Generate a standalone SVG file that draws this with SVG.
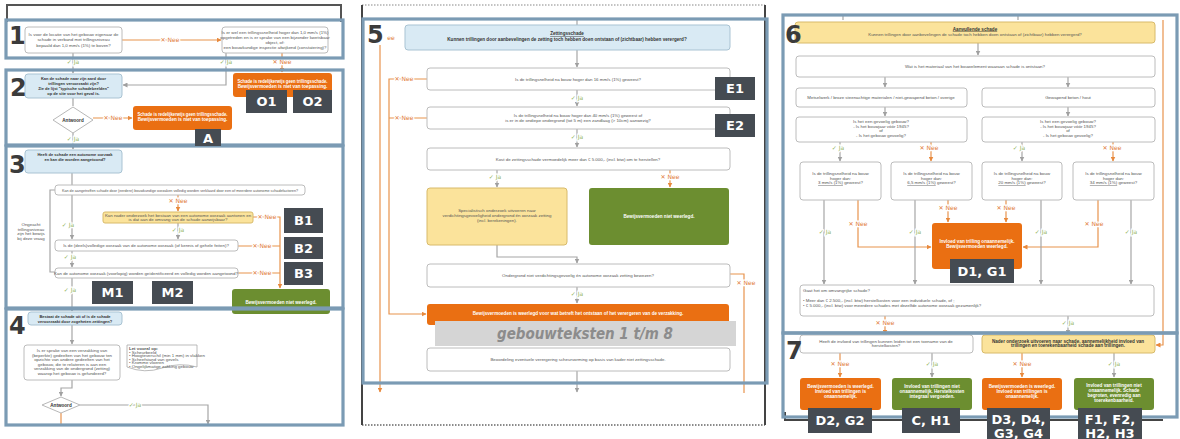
<svg xmlns="http://www.w3.org/2000/svg" width="1180" height="439" viewBox="0 0 1180 439">
<style>
.q{fill:#fff;stroke:#bcbcbc;stroke-width:1}
.lb{fill:#d9eaf4;stroke:#a9c3d3;stroke-width:1}
.or{fill:#ea6f12}
.gr{fill:#6c8e30}
.ye{fill:#fbe39b;stroke:#d8ba6a;stroke-width:1}
.tag{fill:#454b52}
.frame{fill:none;stroke:#7b9bb4;stroke-width:3.2}
.t{font-family:"Liberation Sans",Arial,sans-serif;font-size:4.4px;fill:#555;text-anchor:middle}
.tl{font-family:"Liberation Sans",Arial,sans-serif;font-size:4.4px;fill:#555}
.tb{font-family:"Liberation Sans",Arial,sans-serif;font-size:4.6px;fill:#333;font-weight:bold;text-anchor:middle}
.ts{font-size:4px}
.tw{font-family:"Liberation Sans",Arial,sans-serif;font-size:4.6px;fill:#fff;font-weight:bold;text-anchor:middle}
.tg{font-family:"DejaVu Sans",Verdana,sans-serif;font-size:13px;fill:#fff;font-weight:bold;text-anchor:middle}
.num{font-family:"DejaVu Sans",Verdana,sans-serif;font-size:24px;fill:#3b3b3b;font-weight:bold}
.ja{font-family:"DejaVu Sans",sans-serif;font-size:6px;fill:#93b55e;text-anchor:middle;stroke:#fff;stroke-width:2.5;paint-order:stroke}
.nee{font-family:"DejaVu Sans",sans-serif;font-size:6px;fill:#e07a36;text-anchor:middle;stroke:#fff;stroke-width:2.5;paint-order:stroke}
.cg{stroke:#a6a6a6;stroke-width:1.2;fill:none}
.co{stroke:#e8934d;stroke-width:1.2;fill:none}
</style>
<defs>
<marker id="ag" markerWidth="5" markerHeight="5" refX="4.5" refY="2.5" orient="auto" markerUnits="userSpaceOnUse"><path d="M0,0 L5,2.5 L0,5 Z" fill="#a0a0a0"/></marker>
<marker id="ao" markerWidth="5" markerHeight="5" refX="4.5" refY="2.5" orient="auto" markerUnits="userSpaceOnUse"><path d="M0,0 L5,2.5 L0,5 Z" fill="#e8893d"/></marker>
</defs>
<rect width="1180" height="439" fill="#fff"/>

<!-- outer frames -->
<g id="outer">
<path d="M7,22 V5 H341 V22" fill="none" stroke="#555" stroke-width="2"/>
<line x1="362" y1="5" x2="765" y2="5" stroke="#888" stroke-width="1.2" stroke-dasharray="1.5 1.5"/>
<line x1="362" y1="425" x2="765" y2="425" stroke="#666" stroke-width="1.5" stroke-dasharray="1.5 1.5"/>
<line x1="362" y1="5" x2="362" y2="425" stroke="#444" stroke-width="2"/>
<line x1="765" y1="5" x2="765" y2="425" stroke="#444" stroke-width="2"/>
<path d="M785,412 V420 H1163" fill="none" stroke="#444" stroke-width="2"/>
</g>

<!-- connectors -->
<g id="connectors">
<path class="co" d="M122,40 H221" marker-end="url(#ao)"/>
<path class="cg" d="M73,53 V73" marker-end="url(#ag)"/>
<path class="cg" d="M226,53 V85 H123" marker-end="url(#ag)"/>
<path class="co" d="M282,53 V72" marker-end="url(#ao)"/>
<path class="cg" d="M73,98 V106"/>
<path class="co" d="M93,118 H132" marker-end="url(#ao)"/>
<path class="cg" d="M73,133 V149" marker-end="url(#ag)"/>
<path class="cg" d="M72,173 V185"/>
<path class="cg" d="M72,195 V239" marker-end="url(#ag)"/>
<path class="co" d="M178,195 V211" marker-end="url(#ao)"/>
<path class="cg" d="M178,223 V239" marker-end="url(#ag)"/>
<path class="co" d="M253,217 H280 V288" marker-end="url(#ao)"/>
<path class="co" d="M238,246 H280"/>
<path class="co" d="M238,273 H280"/>
<path class="cg" d="M72,251 V267" marker-end="url(#ag)"/>
<path class="cg" d="M72,278 V311" marker-end="url(#ag)"/>
<path class="cg" d="M55,190 H50 V272 H55"/>
<path class="cg" d="M72,325 V344" marker-end="url(#ag)"/>
<path class="cg" d="M72,380 V388 H61 V396" marker-end="url(#ag)"/>
<path class="cg" d="M80,405 H208 V424" marker-end="url(#ag)"/>
<path class="co" d="M61,413 V425"/>
<path class="cg" d="M577,19 V25"/>
<path class="cg" d="M577,50 V67" marker-end="url(#ag)"/>
<path class="cg" d="M577,90 V106" marker-end="url(#ag)"/>
<path class="cg" d="M577,129 V147" marker-end="url(#ag)"/>
<path class="cg" d="M497,170 V187" marker-end="url(#ag)"/>
<path class="co" d="M670,170 V187" marker-end="url(#ao)"/>
<path class="cg" d="M497,245 V257 H577 V263" marker-end="url(#ag)"/>
<path class="co" d="M730,274 H744 V393"/>
<path class="cg" d="M577,287 V303" marker-end="url(#ag)"/>
<path class="cg" d="M577,371 V392" marker-end="url(#ag)"/>
<path class="co" d="M380,45 V392" marker-end="url(#ao)"/>
<path class="co" d="M427,79 H389 V314 H426" marker-end="url(#ao)"/>
<path class="co" d="M427,118 H389"/>
<path class="cg" d="M843,15 V20"/>
<path class="cg" d="M1018,15 V20"/>
<path class="cg" d="M978,43 V55" marker-end="url(#ag)"/>
<path class="cg" d="M885,77 V87" marker-end="url(#ag)"/>
<path class="cg" d="M1068,77 V87" marker-end="url(#ag)"/>
<path class="cg" d="M885,107 V116" marker-end="url(#ag)"/>
<path class="cg" d="M1068,107 V116" marker-end="url(#ag)"/>
<path class="cg" d="M840,142 V161" marker-end="url(#ag)"/>
<path class="co" d="M931,142 V161" marker-end="url(#ao)"/>
<path class="cg" d="M1022,142 V161" marker-end="url(#ag)"/>
<path class="co" d="M1113,142 V161" marker-end="url(#ao)"/>
<path class="co" d="M948,200 V222" marker-end="url(#ao)"/>
<path class="co" d="M1006,200 V222" marker-end="url(#ao)"/>
<path class="co" d="M858,200 V247 H931" marker-end="url(#ao)"/>
<path class="co" d="M1098,200 V247 H1023" marker-end="url(#ao)"/>
<path class="cg" d="M824,200 V284" marker-end="url(#ag)"/>
<path class="cg" d="M915,200 V284" marker-end="url(#ag)"/>
<path class="cg" d="M1041,200 V284" marker-end="url(#ag)"/>
<path class="cg" d="M1131,200 V284" marker-end="url(#ag)"/>
<path class="co" d="M885,316 V334" marker-end="url(#ao)"/>
<path class="cg" d="M1068,316 V334" marker-end="url(#ag)"/>
<path class="co" d="M1163,20 V345 H1156" marker-end="url(#ao)" stroke="#dba05f"/>
<path class="co" d="M840,353 V377" marker-end="url(#ao)"/>
<path class="cg" d="M932,353 V377" marker-end="url(#ag)"/>
<path class="co" d="M1022,353 V377" marker-end="url(#ao)"/>
<path class="cg" d="M1114,353 V377" marker-end="url(#ag)"/>
</g>

<!-- edge labels -->
<g id="edge-labels">
<text class="nee" x="170" y="42">✕ Nee</text>
<text class="ja" x="73" y="64">✓ Ja</text>
<text class="ja" x="226" y="64">✓ Ja</text>
<text class="nee" x="282" y="64">✕ Nee</text>
<text class="nee" x="113" y="120">✕ Nee</text>
<text class="ja" x="73" y="141">✓ Ja</text>
<text class="nee" x="178" y="203">✕ Nee</text>
<text class="ja" x="68" y="227">✓ Ja</text>
<text class="ja" x="178" y="232">✓ Ja</text>
<text class="nee" x="267" y="219">✕ Nee</text>
<text class="nee" x="262" y="248">✕ Nee</text>
<text class="nee" x="262" y="275">✕ Nee</text>
<text class="ja" x="70" y="259">✓ Ja</text>
<text class="ja" x="70" y="292">✓ Ja</text>
<text class="ja" x="135" y="407">✓ Ja</text>
<text class="nee" x="391" y="40">ee</text>
<text class="nee" x="404" y="81">✕ Nee</text>
<text class="nee" x="404" y="120">✕ Nee</text>
<text class="ja" x="577" y="100">✓ Ja</text>
<text class="ja" x="577" y="139">✓ Ja</text>
<text class="ja" x="495" y="179">✓ Ja</text>
<text class="nee" x="670" y="179">✕ Nee</text>
<text class="nee" x="746" y="285">✕ Nee</text>
<text class="ja" x="577" y="296">✓ Ja</text>
<text class="ja" x="838" y="150">✓ Ja</text>
<text class="nee" x="929" y="150">✕ Nee</text>
<text class="ja" x="1019" y="150">✓ Ja</text>
<text class="nee" x="1112" y="150">✕ Nee</text>
<text class="nee" x="948" y="210">✕ Nee</text>
<text class="nee" x="1006" y="210">✕ Nee</text>
<text class="nee" x="858" y="226">✕ Nee</text>
<text class="nee" x="1094" y="226">✕ Nee</text>
<text class="ja" x="825" y="234">✓ Ja</text>
<text class="ja" x="915" y="234">✓ Ja</text>
<text class="ja" x="1041" y="234">✓ Ja</text>
<text class="ja" x="1131" y="234">✓ Ja</text>
<text class="nee" x="885" y="325">✕ Nee</text>
<text class="ja" x="1068" y="325">✓ Ja</text>
<text class="nee" x="840" y="366">✕ Nee</text>
<text class="ja" x="932" y="366">✓ Ja</text>
<text class="nee" x="1022" y="366">✕ Nee</text>
<text class="ja" x="1114" y="366">✓ Ja</text>
</g>

<!-- ===== Panel 1 ===== -->
<g id="n1a"><rect class="q" x="25" y="27" width="97" height="26" rx="3"/>
<text class="t" x="73.5" y="36">Is voor de locatie van het gebouw eigenaar de</text>
<text class="t" x="73.5" y="41">schade in verband met trillingsniveau</text>
<text class="t" x="73.5" y="47">bepaald dan 1,0 mm/s (1%) te boven?</text></g>
<g id="n1b"><rect class="q" x="222" y="27" width="106" height="26" rx="3"/>
<text class="t" x="275" y="34">Is er wel een trillingssnelheid hoger dan 1,0 mm/s (1%)</text>
<text class="t" x="275" y="39">opgetreden en is er sprake van een bijzonder kwetsbaar</text>
<text class="t" x="275" y="44">object, of:</text>
<text class="t" x="275" y="49">een bouwkundige inspectie afwijkend (constatering)?</text></g>

<!-- ===== Panel 2 ===== -->
<g id="n2"><rect class="lb" x="25" y="74" width="97" height="24" rx="3"/>
<text class="tb ts" x="73.5" y="80">Kan de schade naar zijn aard door</text>
<text class="tb ts" x="73.5" y="85">trillingen veroorzaakt zijn?</text>
<text class="tb ts" x="73.5" y="90">Zie de lijst "typische schadebeelden"</text>
<text class="tb ts" x="73.5" y="95">op de site voor het geval is.</text></g>
<g id="nO"><rect class="or" x="233" y="73" width="99" height="24" rx="3"/>
<text class="tw" x="282.5" y="83" font-size="3.8" textLength="90" lengthAdjust="spacingAndGlyphs">Schade is redelijkerwijs geen trillingsschade.</text>
<text class="tw" x="282.5" y="88" font-size="3.8">Bewijsvermoeden is niet van toepassing.</text></g>
<g id="nAntw2"><polygon points="53,120 73,107 93,120 73,133" fill="#fff" stroke="#b8b8b8" stroke-width="1"/>
<text class="tb" x="73" y="121.5">Antwoord</text></g>
<g id="nA"><rect class="or" x="133" y="106" width="99" height="24" rx="3"/>
<text class="tw" x="182.5" y="116" font-size="3.8" textLength="90" lengthAdjust="spacingAndGlyphs">Schade is redelijkerwijs geen trillingsschade.</text>
<text class="tw" x="182.5" y="121" font-size="3.8">Bewijsvermoeden is niet van toepassing.</text></g>

<!-- ===== Panel 3 ===== -->
<g id="n3"><rect class="lb" x="25" y="150" width="97" height="23" rx="3"/>
<text class="tb ts" x="75" y="156">Heeft de schade een autonome oorzaak</text>
<text class="tb ts" x="75" y="161">en kan die worden aangetoond?</text></g>
<g id="n3a"><rect class="q" x="55" y="185" width="250" height="10" rx="3"/>
<text class="t" x="180" y="191.5" font-size="3.8" textLength="236" lengthAdjust="spacingAndGlyphs">Kan de aangetroffen schade door (eerdere) bouwkundige oorzaken volledig worden verklaard door een of meerdere autonome schadefactoren?</text></g>
<g id="n3b"><rect class="ye" x="103" y="212" width="150" height="11" rx="2"/>
<text class="t" x="178" y="216.5" font-size="3.8" fill="#444">Kan nader onderzoek het bestaan van een autonome oorzaak aantonen en</text>
<text class="t" x="178" y="221" font-size="3.8" fill="#444">is dat aan de omvang van de schade aanwijsbaar?</text></g>
<g id="n3c"><rect class="q" x="55" y="240" width="183" height="11" rx="3"/>
<text class="t" x="146" y="247" font-size="4">Is de (deels)volledige oorzaak van de autonome oorzaak (of kennis of gehele feiten)?</text></g>
<g id="n3d"><rect class="q" x="55" y="268" width="183" height="10" rx="3"/>
<text class="t" x="146" y="274.5" font-size="3.8">Kan de autonome oorzaak (voorlopig) worden geïdentificeerd en volledig worden aangetoond?</text></g>
<g id="n3side">
<text class="t" x="31" y="226">Ongeacht</text>
<text class="t" x="31" y="230.5">trillingsniveau</text>
<text class="t" x="31" y="235">zijn het bewijs</text>
<text class="t" x="31" y="239.5">bij deze vraag</text></g>
<g id="n3green"><rect class="gr" x="232" y="289" width="98" height="25" rx="3"/>
<text class="tw" x="281" y="304">Bewijsvermoeden niet weerlegd.</text></g>

<!-- ===== Panel 4 ===== -->
<g id="n4"><rect class="lb" x="28" y="312" width="94" height="13" rx="3"/>
<text class="tb ts" x="75" y="317.5">Bestaat de schade uit of is de schade</text>
<text class="tb ts" x="75" y="322.5">veroorzaakt door zogeheten zettingen?</text></g>
<g id="n4a"><rect class="q" x="24" y="345" width="96" height="35" rx="3"/>
<text class="t" x="72" y="352">Is er sprake van een verzakking van</text>
<text class="t" x="72" y="356.5">(beperkte) gedeelten van het gebouw ten</text>
<text class="t" x="72" y="361">opzichte van andere gedeelten van het</text>
<text class="t" x="72" y="365.5">gebouw, die te relateren is aan een</text>
<text class="t" x="72" y="370">verzakking van de ondergrond (zetting)</text>
<text class="t" x="72" y="374.5">waarop het gebouw is gefundeerd?</text></g>
<g id="n4doc"><path d="M127,345 H197 V367 Q180,362 162,368 Q145,374 127,367 Z" fill="#fff" stroke="#aaa" stroke-width="0.8"/>
<text class="tl" x="129" y="349.5" font-weight="bold" fill="#333">Let vooral op:</text>
<text class="tl" x="129" y="353.5">•     Scheurbeeld</text>
<text class="tl" x="129" y="357">•     Hoogteverschil (min 1 mm) in vlakken</text>
<text class="tl" x="129" y="360.5">•     Scheefstand van gevels</text>
<text class="tl" x="129" y="364">•     Kromme vloeren</text>
<text class="tl" x="129" y="367.5">•     Ongelijkmatige zakking gebouw</text></g>
<g id="nAntw4"><polygon points="42,405 61,397 80,405 61,413" fill="#fff" stroke="#b8b8b8" stroke-width="1"/>
<text class="tb" x="61" y="406.5">Antwoord</text></g>

<!-- ===== Panel 5 ===== -->
<g id="n5"><rect class="lb" x="405" y="25" width="325" height="25" rx="3"/>
<text class="tb" x="567" y="35" text-decoration="underline">Zettingsschade</text>
<text class="tb" x="567" y="41">Kunnen trillingen door aanbevelingen de zetting toch hebben doen ontstaan of (zichtbaar) hebben verergerd?</text></g>
<g id="n5a"><rect class="q" x="427" y="68" width="303" height="22" rx="3"/>
<text class="t" x="578" y="80.5">Is de trillingsnelheid na bouw hoger dan 16 mm/s (1%) geweest?</text></g>
<g id="n5b"><rect class="q" x="427" y="107" width="303" height="22" rx="3"/>
<text class="t" x="578" y="116.5">Is de trillingsnelheid na bouw hoger dan 40 mm/s (1%) geweest of</text>
<text class="t" x="578" y="121.5">is er in de ondiepe ondergrond (tot 5 m) een zandlaag (&gt; 10cm) aanwezig?</text></g>
<g id="n5c"><rect class="q" x="427" y="148" width="303" height="22" rx="3"/>
<text class="t" x="578" y="160.5">Kost de zettingsschade vermoedelijk meer dan € 5.000,- (incl. btw) om te herstellen?</text></g>
<g id="n5d"><rect class="ye" x="427" y="188" width="140" height="57" rx="3"/>
<text class="t" x="497" y="212" fill="#444">Specialistisch onderzoek uitvoeren naar</text>
<text class="t" x="497" y="217" fill="#444">verdichtingsgevoeligheid ondergrond én oorzaak zetting</text>
<text class="t" x="497" y="222" fill="#444">(incl. berekeningen).</text></g>
<g id="n5e"><rect class="gr" x="589" y="188" width="140" height="57" rx="3"/>
<text class="tw" x="659" y="218">Bewijsvermoeden niet weerlegd.</text></g>
<g id="n5f"><rect class="q" x="427" y="264" width="303" height="23" rx="3"/>
<text class="t" x="578" y="277">Ondergrond niet verdichtingsgevoelig én autonome oorzaak zetting bewezen?</text></g>
<g id="n5g"><rect class="or" x="427" y="304" width="302" height="21" rx="3"/>
<text class="tw" x="578" y="315">Bewijsvermoeden is weerlegd voor wat betreft het ontstaan of het verergeren van de verzakking.</text></g>
<g id="n5band"><rect x="435" y="321" width="301" height="25" fill="#d5d5d5"/>
<text x="585" y="339" font-family="'DejaVu Sans',Verdana,sans-serif" font-size="16" font-weight="bold" font-style="italic" fill="#8c8c8c" text-anchor="middle" textLength="176" lengthAdjust="spacingAndGlyphs">gebouwteksten 1 t/m 8</text></g>
<g id="n5h"><rect class="q" x="427" y="348" width="303" height="23" rx="3"/>
<text class="t" x="578" y="361">Beoordeling eventuele verergering scheurvorming op basis van kader niet zettingsschade.</text></g>

<!-- ===== Panel 6 ===== -->
<g id="n6"><rect class="ye" x="795" y="22" width="360" height="21" rx="3"/>
<text class="tb" x="975" y="30.5" text-decoration="underline">Aanvullende schade</text>
<text class="t" x="975" y="36" fill="#444">Kunnen trillingen door aanbevelingen de schade toch hebben doen ontstaan of (zichtbaar) hebben verergerd?</text></g>
<g id="n6a"><rect class="q" x="796" y="56" width="359" height="21" rx="3"/>
<text class="t" x="975" y="68">Wat is het materiaal van het bouwelement waaraan schade is ontstaan?</text></g>
<g id="n6b"><rect class="q" x="796" y="88" width="171" height="19" rx="3"/>
<text class="t" x="881" y="99">Metselwerk / broze steenachtige materialen / niet-gewapend beton / overige</text></g>
<g id="n6c"><rect class="q" x="982" y="88" width="173" height="19" rx="3"/>
<text class="t" x="1068" y="99">Gewapend beton / hout</text></g>
<g id="n6d"><rect class="q" x="796" y="117" width="171" height="25" rx="3"/>
<text class="t" x="881" y="123">Is het een gevoelig gebouw?</text>
<text class="t" x="881" y="127.5">- Is het bouwjaar vóór 1945?</text>
<text class="t" x="881" y="132">of</text>
<text class="t" x="881" y="136.5">- Is het gebouw gevoelig?</text></g>
<g id="n6e"><rect class="q" x="982" y="117" width="173" height="25" rx="3"/>
<text class="t" x="1068" y="123">Is het een gevoelig gebouw?</text>
<text class="t" x="1068" y="127.5">- Is het bouwjaar vóór 1945?</text>
<text class="t" x="1068" y="132">of</text>
<text class="t" x="1068" y="136.5">- Is het gebouw gevoelig?</text></g>
<g id="n6v1"><rect class="q" x="800" y="162" width="81" height="38" rx="3"/>
<text class="t" x="840.5" y="175">Is de trillingsnelheid na bouw</text>
<text class="t" x="840.5" y="179.5">hoger dan:</text>
<text class="t" x="840.5" y="184"><tspan text-decoration="underline">3 mm/s (1%)</tspan> geweest?</text></g>
<g id="n6v2"><rect class="q" x="891" y="162" width="81" height="38" rx="3"/>
<text class="t" x="931.5" y="175">Is de trillingsnelheid na bouw</text>
<text class="t" x="931.5" y="179.5">hoger dan:</text>
<text class="t" x="931.5" y="184"><tspan text-decoration="underline">6,5 mm/s (1%)</tspan> geweest?</text></g>
<g id="n6v3"><rect class="q" x="982" y="162" width="80" height="38" rx="3"/>
<text class="t" x="1022" y="175">Is de trillingsnelheid na bouw</text>
<text class="t" x="1022" y="179.5">hoger dan:</text>
<text class="t" x="1022" y="184"><tspan text-decoration="underline">20 mm/s (1%)</tspan> geweest?</text></g>
<g id="n6v4"><rect class="q" x="1073" y="162" width="81" height="38" rx="3"/>
<text class="t" x="1113.5" y="175">Is de trillingsnelheid na bouw</text>
<text class="t" x="1113.5" y="179.5">hoger dan:</text>
<text class="t" x="1113.5" y="184"><tspan text-decoration="underline">34 mm/s (1%)</tspan> geweest?</text></g>
<g id="n6or"><rect class="or" x="932" y="223" width="90" height="46" rx="3"/>
<text class="tw" x="977" y="243">Invloed van trilling onaannemelijk.</text>
<text class="tw" x="977" y="248">Bewijsvermoeden weerlegd.</text></g>
<g id="n6big"><rect class="q" x="800" y="285" width="354" height="31" rx="3"/>
<text class="tl" x="803" y="292">Gaat het om omvangrijke schade?</text>
<text class="tl" x="803" y="302">•        Meer dan € 2.500,- (incl. btw) herstelkosten voor een individuele schade, of ;</text>
<text class="tl" x="803" y="307">•        € 5.000,- (incl. btw) voor meerdere schades met dezelfde autonome oorzaak gezamenlijk?</text></g>

<!-- ===== Panel 7 ===== -->
<g id="n7a"><rect class="q" x="800" y="335" width="173" height="18" rx="3"/>
<text class="t" x="886" y="342.5">Heeft de invloed van trillingen kunnen leiden tot een toename van de</text>
<text class="t" x="886" y="347">herstelkosten?</text></g>
<g id="n7b"><rect class="ye" x="982" y="335" width="173" height="18" rx="3"/>
<text class="tb" x="1068" y="342.5">Nader onderzoek uitvoeren naar schade, aannemelijkheid invloed van</text>
<text class="tb" x="1068" y="347">trillingen en toerekenbaarheid schade aan trillingen.</text></g>
<g id="n7c"><rect class="or" x="800" y="378" width="81" height="32" rx="3"/>
<text class="tw" x="840.5" y="388">Bewijsvermoeden is weerlegd.</text>
<text class="tw" x="840.5" y="393">Invloed van trillingen is</text>
<text class="tw" x="840.5" y="398">onaannemelijk.</text></g>
<g id="n7d"><rect class="gr" x="892" y="378" width="80" height="32" rx="3"/>
<text class="tw" x="932" y="388">Invloed van trillingen niet</text>
<text class="tw" x="932" y="393">onaannemelijk. Herstelkosten</text>
<text class="tw" x="932" y="398">integraal vergoeden.</text></g>
<g id="n7e"><rect class="or" x="982" y="378" width="80" height="32" rx="3"/>
<text class="tw" x="1022" y="388">Bewijsvermoeden is weerlegd.</text>
<text class="tw" x="1022" y="393">Invloed van trillingen is</text>
<text class="tw" x="1022" y="398">onaannemelijk.</text></g>
<g id="n7f"><rect class="gr" x="1074" y="378" width="80" height="32" rx="3"/>
<text class="tw" x="1114" y="387">Invloed van trillingen niet</text>
<text class="tw" x="1114" y="392">onaannemelijk. Schade</text>
<text class="tw" x="1114" y="397">begroten, evenredig aan</text>
<text class="tw" x="1114" y="402">toerekenbaarheid.</text></g>

<!-- panel frames -->
<g id="frames">
<rect class="frame" x="6" y="20" width="337" height="38"/>
<rect class="frame" x="6" y="70" width="337" height="75"/>
<rect class="frame" x="6" y="146" width="337" height="162"/>
<rect class="frame" x="6" y="309" width="337" height="116"/>
<rect class="frame" x="363" y="19" width="404" height="364"/>
<rect class="frame" x="783" y="15" width="394" height="318"/>
<rect class="frame" x="783" y="333" width="394" height="84"/>
</g>

<!-- panel numbers -->
<g id="numbers">
<text class="num" x="9" y="44">1</text>
<text class="num" x="10" y="96">2</text>
<text class="num" x="9" y="173">3</text>
<text class="num" x="9" y="334">4</text>
<text class="num" x="367" y="43">5</text>
<text class="num" x="785" y="43">6</text>
<text class="num" x="786" y="359">7</text>
</g>

<!-- reference tags -->
<g id="tags">
<g id="tO1"><rect class="tag" x="246" y="90" width="41" height="23"/><text class="tg" x="266.5" y="106">O1</text></g>
<g id="tO2"><rect class="tag" x="293" y="90" width="39" height="23"/><text class="tg" x="312.5" y="106">O2</text></g>
<g id="tA"><rect class="tag" x="195" y="129" width="26" height="17"/><text class="tg" x="208" y="143">A</text></g>
<g id="tB1"><rect class="tag" x="284" y="208" width="39" height="25"/><text class="tg" x="303.5" y="225">B1</text></g>
<g id="tB2"><rect class="tag" x="284" y="237" width="39" height="22"/><text class="tg" x="303.5" y="253">B2</text></g>
<g id="tB3"><rect class="tag" x="284" y="262" width="39" height="23"/><text class="tg" x="303.5" y="278">B3</text></g>
<g id="tM1"><rect class="tag" x="92" y="281" width="41" height="23"/><text class="tg" x="112.5" y="297">M1</text></g>
<g id="tM2"><rect class="tag" x="152" y="281" width="41" height="23"/><text class="tg" x="172.5" y="297">M2</text></g>
<g id="tE1"><rect class="tag" x="715" y="77" width="40" height="23"/><text class="tg" x="735" y="93">E1</text></g>
<g id="tE2"><rect class="tag" x="715" y="114" width="40" height="23"/><text class="tg" x="735" y="130">E2</text></g>
<g id="tD1"><rect class="tag" x="950" y="259" width="64" height="24"/><text class="tg" x="982" y="276">D1, G1</text></g>
<g id="tD2"><rect class="tag" x="808" y="408" width="64" height="25"/><text class="tg" x="840" y="425">D2, G2</text></g>
<g id="tC"><rect class="tag" x="902" y="408" width="58" height="25"/><text class="tg" x="931" y="425">C, H1</text></g>
<g id="tD3"><rect class="tag" x="987" y="408" width="63" height="31"/><text class="tg" x="1018.5" y="424">D3, D4,</text><text class="tg" x="1018.5" y="438">G3, G4</text></g>
<g id="tF1"><rect class="tag" x="1078" y="408" width="64" height="31"/><text class="tg" x="1110" y="424">F1, F2,</text><text class="tg" x="1110" y="438">H2, H3</text></g>
</g>
</svg>
